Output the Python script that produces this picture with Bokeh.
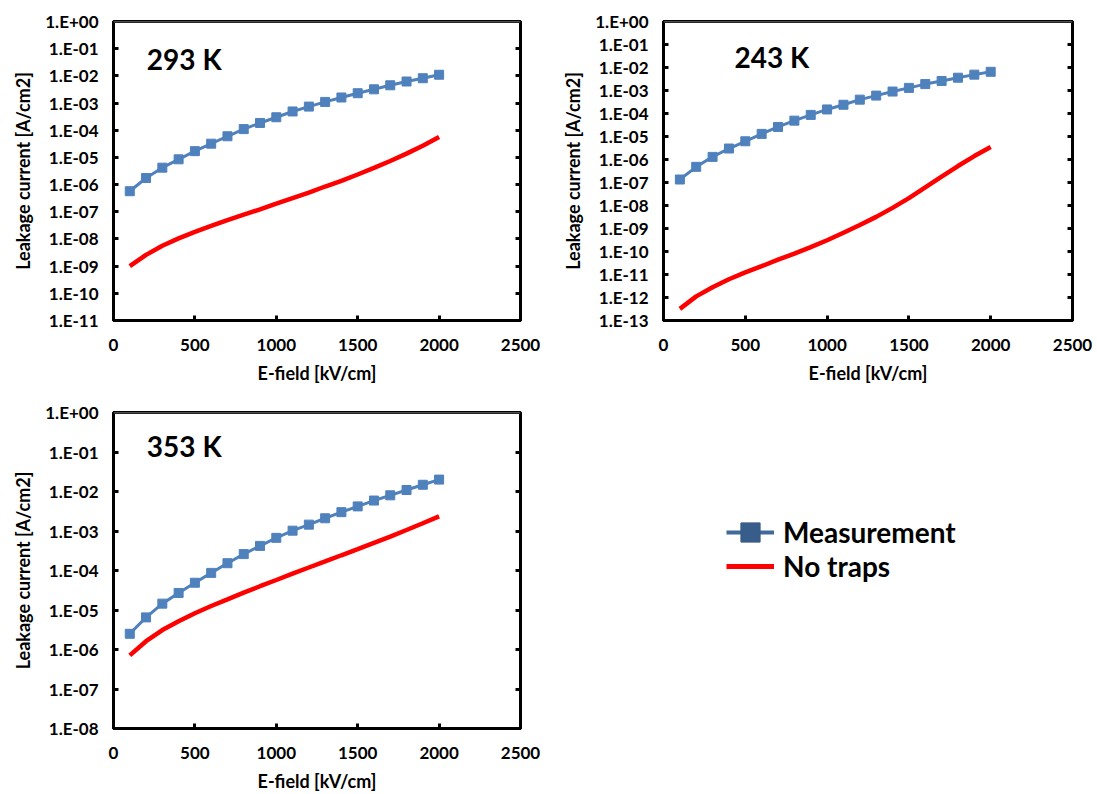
from bokeh.plotting import figure
from bokeh.layouts import column, row
from bokeh.models import (Range1d, FixedTicker, LogAxis, CustomJSTickFormatter,
                          Label, Legend, LegendItem, Span)
from bokeh.embed import file_html
from bokeh.resources import INLINE

# E-field sweep [kV/cm]
e_field = [100, 200, 300, 400, 500, 600, 700, 800, 900, 1000,
           1100, 1200, 1300, 1400, 1500, 1600, 1700, 1800, 1900, 2000]

# Leakage current density [A/cm2] at 293 K
meas_293 = [5.7e-7, 1.75e-6, 4.2e-6, 8.5e-6, 1.7e-5, 3.2e-5, 6.0e-5, 1.1e-4, 1.85e-4, 3.0e-4,
            4.9e-4, 7.4e-4, 1.1e-3, 1.6e-3, 2.3e-3, 3.2e-3, 4.5e-3, 6.2e-3, 8.2e-3, 1.1e-2]
notraps_293 = [1.0e-9, 2.6e-9, 5.6e-9, 1.05e-8, 1.82e-8, 3.0e-8, 4.9e-8, 7.8e-8, 1.23e-7, 2.0e-7,
               3.2e-7, 5.1e-7, 8.5e-7, 1.38e-6, 2.35e-6, 4.1e-6, 7.4e-6, 1.38e-5, 2.7e-5, 5.6e-5]

# 243 K
meas_243 = [1.35e-7, 4.8e-7, 1.3e-6, 3.0e-6, 6.2e-6, 1.3e-5, 2.6e-5, 4.9e-5, 8.7e-5, 1.5e-4,
            2.4e-4, 4.0e-4, 6.0e-4, 9.0e-4, 1.3e-3, 1.9e-3, 2.6e-3, 3.6e-3, 4.9e-3, 6.5e-3]
notraps_243 = [3.2e-13, 1.12e-12, 2.8e-12, 6.2e-12, 1.23e-11, 2.3e-11, 4.4e-11, 8.1e-11, 1.55e-10, 3.1e-10,
               6.5e-10, 1.41e-9, 3.2e-9, 7.9e-9, 2.1e-8, 6.2e-8, 1.8e-7, 5.2e-7, 1.41e-6, 3.5e-6]

# 353 K
meas_353 = [2.5e-6, 6.5e-6, 1.45e-5, 2.7e-5, 4.9e-5, 8.7e-5, 1.53e-4, 2.6e-4, 4.2e-4, 6.7e-4,
            1.02e-3, 1.45e-3, 2.1e-3, 3.0e-3, 4.2e-3, 5.9e-3, 8.0e-3, 1.09e-2, 1.48e-2, 2.0e-2]
notraps_353 = [7.1e-7, 1.62e-6, 3.1e-6, 5.2e-6, 8.3e-6, 1.26e-5, 1.86e-5, 2.75e-5, 4.0e-5, 5.75e-5,
               8.3e-5, 1.19e-4, 1.7e-4, 2.43e-4, 3.47e-4, 5.0e-4, 7.2e-4, 1.06e-3, 1.57e-3, 2.34e-3]

x_ticks = [0, 500, 1000, 1500, 2000, 2500]
x_title = "E-field [kV/cm]"
y_title = "Leakage current [A/cm2]"
series_names = ["Measurement", "No traps"]

FONT = "Lato"
BLUE = "#4F81BD"
BLUE_DARK = "#385D8A"
RED = "#FF0000"


def exp_formatter():
    return CustomJSTickFormatter(code="""
        const e = Math.round(Math.log10(tick));
        const a = Math.abs(e);
        return "1.E" + (e < 0 ? "-" : "+") + (a < 10 ? "0" + a : "" + a);
    """)


def panel(title, meas, notraps, lowest_exp, w, h, left, right, top, bottom,
          title_x, title_y):
    y_ticks = [10.0 ** k for k in range(lowest_exp, 1)]
    p = figure(width=w, height=h, x_range=Range1d(0, 2500),
               y_range=Range1d(10.0 ** lowest_exp, 1.0), y_axis_type="log",
               output_backend="svg", toolbar_location=None,
               min_border_left=left, min_border_right=right,
               min_border_top=top, min_border_bottom=bottom,
               background_fill_color="white", border_fill_color="white")
    p.grid.visible = False
    p.outline_line_color = "black"
    p.outline_line_width = 3

    for ax in (p.xaxis[0], p.yaxis[0]):
        ax.axis_line_width = 3
        ax.axis_line_color = "black"
        ax.major_tick_in = 5
        ax.major_tick_out = 0
        ax.major_tick_line_width = 3
        ax.minor_tick_line_color = None
        ax.major_label_text_font = FONT
        ax.major_label_text_font_style = "bold"
        ax.major_label_text_font_size = "17px"
        ax.major_label_text_color = "black"
        ax.axis_label_text_font = FONT
        ax.axis_label_text_font_style = "bold"
        ax.axis_label_text_font_size = "18px"
        ax.axis_label_text_color = "black"

    p.xaxis.ticker = FixedTicker(ticks=x_ticks)
    p.xaxis.axis_label = x_title
    p.xaxis.major_label_standoff = 18
    p.xaxis.axis_label_standoff = 8

    p.yaxis.ticker = FixedTicker(ticks=y_ticks)
    p.yaxis.formatter = exp_formatter()
    p.yaxis.axis_label = y_title
    p.yaxis.major_label_standoff = 15
    p.yaxis.axis_label_standoff = 8

    # mirrored tick marks on the right edge, without labels
    right_axis = LogAxis(ticker=FixedTicker(ticks=y_ticks),
                         formatter=CustomJSTickFormatter(code="return '';"),
                         axis_line_width=3, major_tick_in=5, major_tick_out=0,
                         major_tick_line_width=3, minor_tick_line_color=None,
                         major_label_standoff=0)
    p.add_layout(right_axis, "right")

    p.add_layout(Span(location=1.0, dimension="width", line_color="#9A9A9A", line_width=1.5))

    p.line(e_field, notraps, line_color=RED, line_width=4.5)
    p.line(e_field, meas, line_color=BLUE, line_width=3)
    p.scatter(e_field, meas, marker="square", size=9, fill_color=BLUE, line_color=BLUE)

    p.add_layout(Label(x=title_x, y=title_y, text=title, text_font=FONT,
                       text_font_style="bold", text_font_size="28px",
                       text_baseline="middle", text_color="black"))
    return p


p1 = panel("293 K", meas_293, notraps_293, -11, 550, 390, 113, 30, 17, 69, 205, 10 ** -1.38)
p2 = panel("243 K", meas_243, notraps_243, -13, 547, 390, 113, 25, 21, 70, 434, 10 ** -1.55)
p3 = panel("353 K", meas_353, notraps_353, -8, 550, 404, 113, 30, 22, 65, 205, 10 ** -0.84)

# Legend panel: key renderers carry the 293 K series but lie outside this panel's ranges
p4 = figure(width=547, height=404, x_range=Range1d(0, 1), y_range=Range1d(0, 1),
            x_axis_type=None, y_axis_type=None,
            output_backend="svg", toolbar_location=None, min_border=0,
            outline_line_color=None, background_fill_color="white",
            border_fill_color="white")
p4.grid.visible = False
key_line = p4.line(e_field, meas_293, line_color="#40699C", line_width=4)
key_mark = p4.scatter(e_field, meas_293, marker="square", fill_color=BLUE_DARK,
                      line_color=BLUE_DARK)
key_red = p4.line(e_field, notraps_293, line_color=RED, line_width=5)

legend_style = dict(glyph_width=48, glyph_height=52, padding=0, margin=0,
                    border_line_color=None, background_fill_alpha=0,
                    label_text_font=FONT, label_text_font_style="bold",
                    label_text_font_size="28px", label_text_color="black",
                    label_standoff=9)
p4.add_layout(Legend(items=[LegendItem(label=series_names[0], renderers=[key_line, key_mark])],
                     location=(176, 170), **legend_style))
p4.add_layout(Legend(items=[LegendItem(label=series_names[1], renderers=[key_red])],
                     location=(176, 136), **legend_style))

layout = column(row(p1, p2), row(p3, p4))

with open("out.html", "w") as f:
    f.write(file_html(layout, INLINE))
